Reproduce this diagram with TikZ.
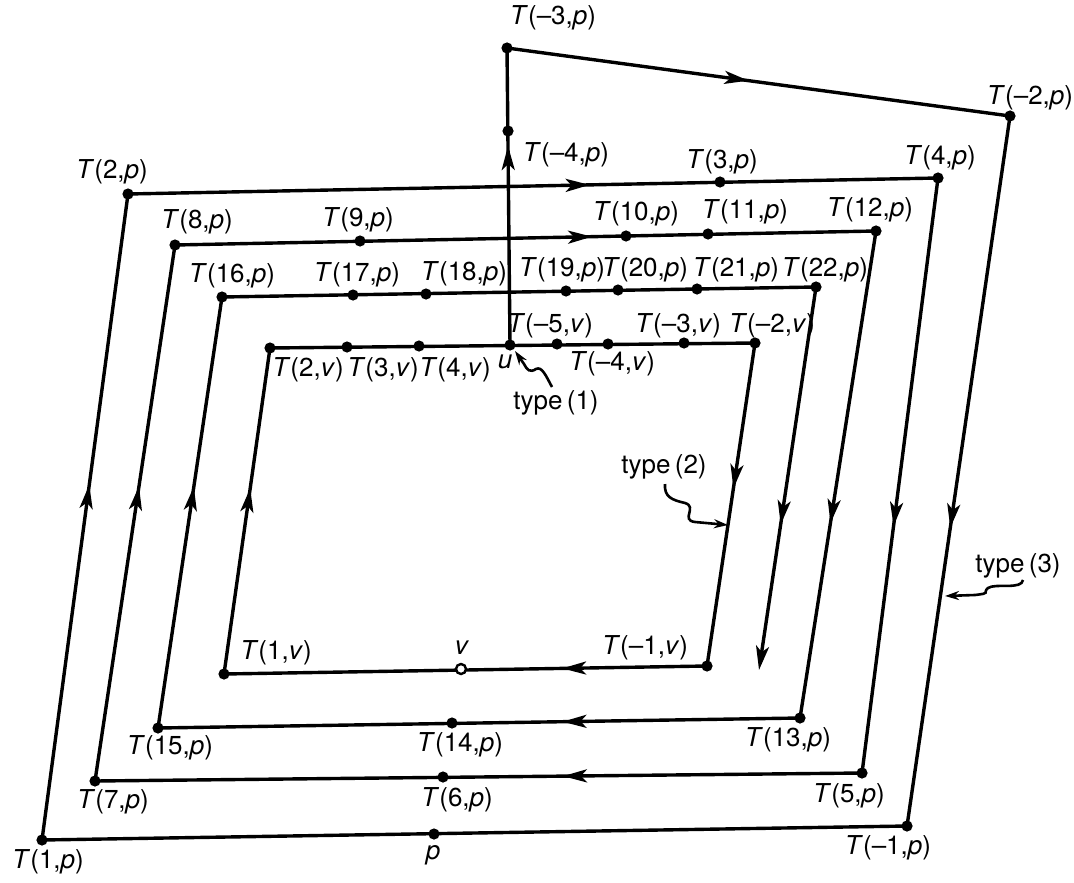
\documentclass[tikz,border=0pt]{standalone}
\usepackage{fontspec}
\setmainfont{TeX Gyre Heros}
\usetikzlibrary{arrows.meta,decorations.markings}
\newcommand{\Tlab}[2]{\textit{T}(#1,\textit{#2})}
\begin{document}
\begin{tikzpicture}[x=0.5pt,y=-0.5pt,line width=1.7pt,
  lab/.style={font=\fontsize{13}{15}\selectfont,inner sep=0pt},
  marr/.style={postaction={decorate},decoration={markings,
      mark=at position #1 with {\arrow{Stealth[length=12pt,width=6.5pt,inset=3pt]}}}},
  squig/.style={line width=1.3pt,-{Stealth[length=7pt,width=4.5pt]}}]
\useasboundingbox (0,0) rectangle (1074,882);
% ---------- points
\coordinate (T1p) at (42,840);
\coordinate (T2p) at (128,194);
\coordinate (T3p) at (720,182);
\coordinate (T4p) at (938,178);
\coordinate (T5p) at (862,773);
\coordinate (T6p) at (443,777);
\coordinate (T7p) at (95,781);
\coordinate (T8p) at (175,245);
\coordinate (T9p) at (360,241);
\coordinate (T10p) at (626,236);
\coordinate (T11p) at (708,234);
\coordinate (T12p) at (876,231);
\coordinate (T13p) at (800,718);
\coordinate (T14p) at (452,723);
\coordinate (T15p) at (158,728);
\coordinate (T16p) at (222,297);
\coordinate (T17p) at (353,295);
\coordinate (T18p) at (426,294);
\coordinate (T19p) at (566,291);
\coordinate (T20p) at (618,290);
\coordinate (T21p) at (697,289);
\coordinate (T22p) at (816,287);
\coordinate (Tend) at (759,670);
\coordinate (T1v) at (224,674);
\coordinate (T2v) at (270,348);
\coordinate (T3v) at (347,347);
\coordinate (T4v) at (419,346);
\coordinate (u) at (510,345);
\coordinate (Tm5v) at (557,344);
\coordinate (Tm4v) at (608,344);
\coordinate (Tm3v) at (684,343);
\coordinate (Tm2v) at (755,343);
\coordinate (Tm1v) at (707,666);
\coordinate (v) at (461,669);
\coordinate (Tm4p) at (508,131);
\coordinate (Tm3p) at (507,48);
\coordinate (Tm2p) at (1010,116);
\coordinate (Tm1p) at (907,826);
\coordinate (p) at (434,834);
% ---------- spiral of p
\draw[marr=0.55] (T1p) -- (T2p);
\draw[marr=0.57] (T2p) -- (T4p);
\draw[marr=0.585] (T4p) -- (T5p);
\draw[marr=0.39] (T5p) -- (T7p);
\draw[marr=0.55] (T7p) -- (T8p);
\draw[marr=0.595] (T8p) -- (T12p);
\draw[marr=0.60] (T12p) -- (T13p);
\draw[marr=0.37] (T13p) -- (T15p);
\draw[marr=0.56] (T15p) -- (T16p);
\draw (T16p) -- (T22p);
\draw[marr=0.62,-{Stealth[length=12pt,width=6.5pt,inset=3pt]}] (T22p) -- (Tend);
% ---------- loop of v
\draw[marr=0.57] (T1v) -- (T2v);
\draw (T2v) -- (Tm2v);
\draw[marr=0.45] (Tm2v) -- (Tm1v);
\draw[marr=0.30] (Tm1v) -- (T1v);
% ---------- path from u
\draw[marr=0.67] (u) -- (Tm3p);
\draw[marr=0.48] (Tm3p) -- (Tm2p);
\draw[marr=0.58] (Tm2p) -- (Tm1p);
\draw (Tm1p) -- (T1p);
% ---------- dots
\foreach \n in {T1p,T2p,T3p,T4p,T5p,T6p,T7p,T8p,T9p,T10p,T11p,T12p,T13p,T14p,T15p,
  T16p,T17p,T18p,T19p,T20p,T21p,T22p,T1v,T2v,T3v,T4v,u,Tm5v,Tm4v,Tm3v,Tm2v,Tm1v,
  Tm4p,Tm3p,Tm2p,Tm1p,p}
  \fill (\n) circle (2.8pt);
\filldraw[fill=white,line width=1.2pt] (v) circle (2.5pt);
% ---------- labels
\node[lab] (lTm3p) at (553,18) {\Tlab{–3}{p}};
\node[lab] (lTm2p) at (1030,98) {\Tlab{–2}{p}};
\node[lab] (lT2p) at (112,172) {\Tlab{2}{p}};
\node[lab] (lTm4p) at (566,155) {\Tlab{–4}{p}};
\node[lab] (lT3p) at (722,162) {\Tlab{3}{p}};
\node[lab] (lT4p) at (940,158) {\Tlab{4}{p}};
\node[lab] (lT8p) at (197,222) {\Tlab{8}{p}};
\node[lab] (lT9p) at (358,220) {\Tlab{9}{p}};
\node[lab] (lT10p) at (636,214) {\Tlab{10}{p}};
\node[lab] (lT11p) at (745,212) {\Tlab{11}{p}};
\node[lab] (lT12p) at (870,210) {\Tlab{12}{p}};
\node[lab] (lT16p) at (232,276) {\Tlab{16}{p}};
\node[lab] (lT17p) at (357,275) {\Tlab{17}{p}};
\node[lab] (lT18p) at (464,274) {\Tlab{18}{p}};
\node[lab] (lT19p) at (562,270) {\Tlab{19}{p}};
\node[lab] (lT20p) at (645,270) {\Tlab{20}{p}};
\node[lab] (lT21p) at (736,270) {\Tlab{21}{p}};
\node[lab] (lT22p) at (825,270) {\Tlab{22}{p}};
\node[lab] (lTm5v) at (550,326) {\Tlab{–5}{v}};
\node[lab] (lTm3v) at (678,326) {\Tlab{–3}{v}};
\node[lab] (lTm2v) at (772,326) {\Tlab{–2}{v}};
\node[lab] (lT2v) at (308,370) {\Tlab{2}{v}};
\node[lab] (lT3v) at (383,370) {\Tlab{3}{v}};
\node[lab] (lT4v) at (455,370) {\Tlab{4}{v}};
\node[lab] (lu) at (505,362) {\textit{u}};
\node[lab] (lTm4v) at (612,364) {\Tlab{–4}{v}};
\node[lab] (ty1) at (556,403) {type\,(1)};
\node[lab] (ty2) at (664,467) {type\,(2)};
\node[lab] (ty3) at (1018,566) {type\,(3)};
\node[lab] (lT1v) at (276,653) {\Tlab{1}{v}};
\node[lab] (lv) at (462,648) {\textit{v}};
\node[lab] (lTm1v) at (645,648) {\Tlab{–1}{v}};
\node[lab] (lT15p) at (170,748) {\Tlab{15}{p}};
\node[lab] (lT14p) at (460,745) {\Tlab{14}{p}};
\node[lab] (lT13p) at (788,740) {\Tlab{13}{p}};
\node[lab] (lT7p) at (113,802) {\Tlab{7}{p}};
\node[lab] (lT6p) at (457,800) {\Tlab{6}{p}};
\node[lab] (lT5p) at (849,796) {\Tlab{5}{p}};
\node[lab] (lT1p) at (48,862) {\Tlab{1}{p}};
\node[lab] (lp) at (433,855) {\textit{p}};
\node[lab] (lTm1p) at (888,848) {\Tlab{–1}{p}};
% ---------- squiggly pointers
\coordinate (s1) at (552,387);
\coordinate (e1) at (515,351);
\draw[squig] (s1) .. controls (546,376) and (542,366) .. (536,369)
  .. controls (530,373) and (527,370) .. (524,364) -- (e1);
\coordinate (s2) at (665,484);
\coordinate (e2) at (728,525);
\draw[squig] (s2) .. controls (664,497) and (672,500) .. (685,503)
  .. controls (698,507) and (680,520) .. (695,522) -- (e2);
\coordinate (s3) at (1023,580);
\coordinate (e3) at (945,596);
\draw[squig] (s3) .. controls (1022,590) and (995,583) .. (988,588)
  .. controls (982,593) and (992,593) .. (975,595) -- (e3);
\end{tikzpicture}
\end{document}
